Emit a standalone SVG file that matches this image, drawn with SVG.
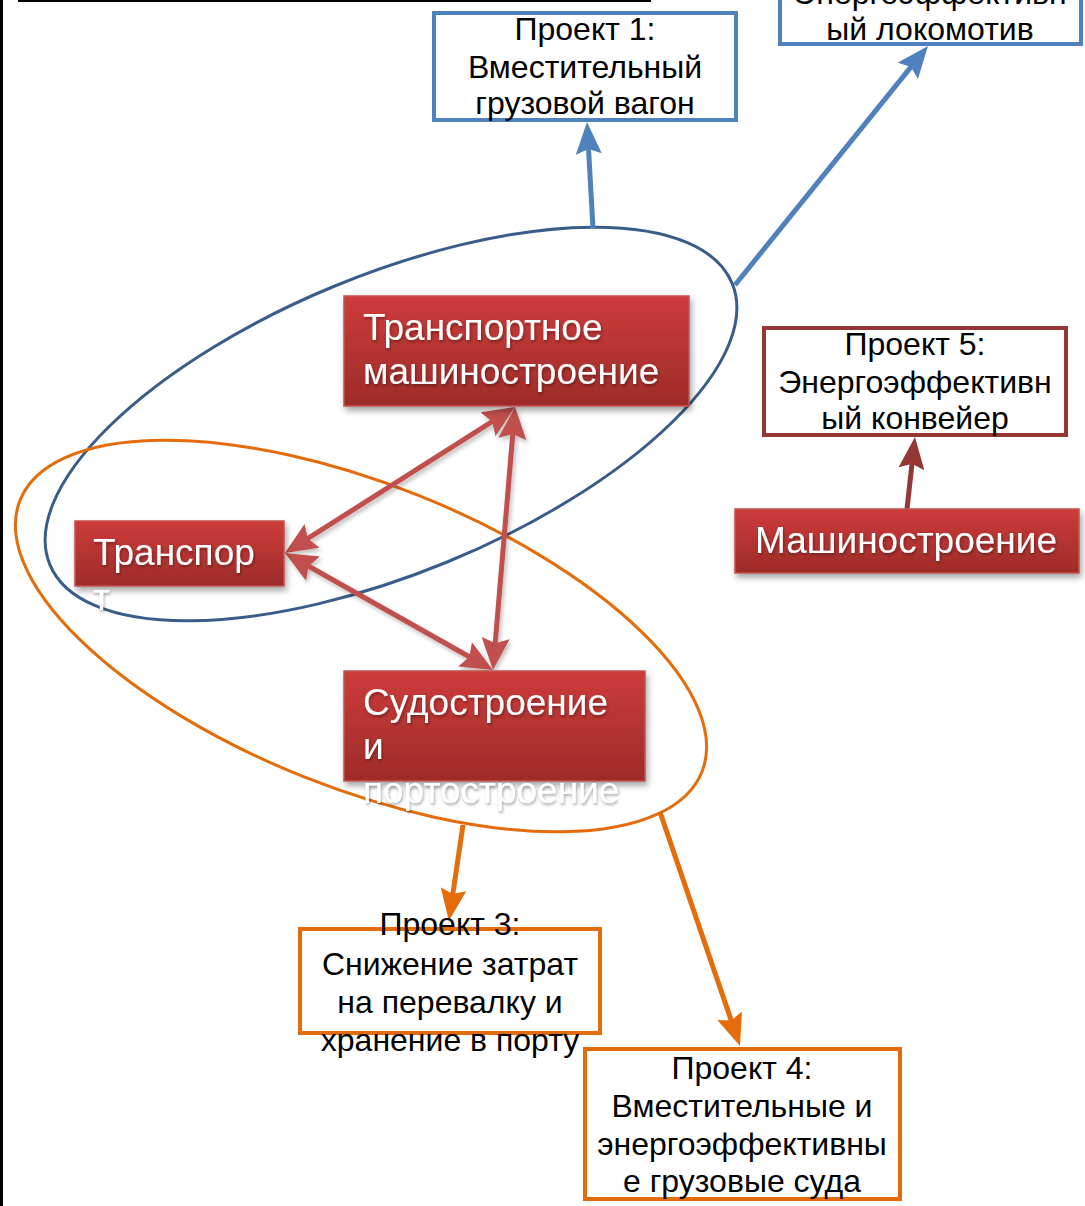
<svg xmlns="http://www.w3.org/2000/svg" width="1085" height="1206" viewBox="0 0 1085 1206">
  <defs>
    <style>
      .proj { fill: #ffffff; stroke-width: 4; }
      .blue { stroke: #4F81BD; }
      .brick { stroke: #953735; }
      .orange { stroke: #E46C0A; }
      .ptext { font-family: "Liberation Sans", Arial, sans-serif; font-size: 32px; fill: #000000; text-anchor: middle; }
      .rtext { font-family: "Liberation Sans", Arial, sans-serif; font-size: 37px; fill: #ffffff; filter: url(#txtShadow); }
      .rnode { fill: url(#redGrad); stroke: #C25350; stroke-width: 1.5; filter: url(#boxShadow); }
      .ring { fill: none; stroke-width: 3; }
      .link { fill: none; stroke-width: 5; }
    </style>
    <linearGradient id="redGrad" x1="0" y1="0" x2="0" y2="1">
      <stop offset="0" stop-color="#CD3C3A"/>
      <stop offset="1" stop-color="#9D2B29"/>
    </linearGradient>
    <filter id="boxShadow" x="-10%" y="-20%" width="125%" height="150%">
      <feDropShadow dx="2" dy="4" stdDeviation="3" flood-color="#000000" flood-opacity="0.35"/>
    </filter>
    <filter id="txtShadow" x="-10%" y="-30%" width="125%" height="170%">
      <feDropShadow dx="1" dy="2" stdDeviation="1.5" flood-color="#000000" flood-opacity="0.35"/>
    </filter>
    <filter id="lineShadow" x="-20%" y="-20%" width="140%" height="140%">
      <feDropShadow dx="2" dy="3" stdDeviation="2" flood-color="#000000" flood-opacity="0.25"/>
    </filter>
    <!-- arrowheads: reference point sits mid-head, tip is 16 units ahead -->
    <marker id="headBlue" viewBox="0 0 32 26" markerWidth="32" markerHeight="26" refX="16" refY="13" markerUnits="userSpaceOnUse" orient="auto-start-reverse">
      <path d="M0,0 L32,13 L0,26 L5,13 Z" fill="#4F81BD"/>
    </marker>
    <marker id="headRed" viewBox="0 0 32 28" markerWidth="32" markerHeight="28" refX="16" refY="14" markerUnits="userSpaceOnUse" orient="auto-start-reverse">
      <path d="M0,0 L32,14 L0,28 L5,14 Z" fill="#C0504D"/>
    </marker>
    <marker id="headBrick" viewBox="0 0 32 26" markerWidth="32" markerHeight="26" refX="16" refY="13" markerUnits="userSpaceOnUse" orient="auto-start-reverse">
      <path d="M0,0 L32,13 L0,26 L5,13 Z" fill="#953735"/>
    </marker>
    <marker id="headOrange" viewBox="0 0 32 26" markerWidth="32" markerHeight="26" refX="16" refY="13" markerUnits="userSpaceOnUse" orient="auto-start-reverse">
      <path d="M0,0 L32,13 L0,26 L5,13 Z" fill="#E46C0A"/>
    </marker>
  </defs>

  <rect x="0" y="0" width="1085" height="1206" fill="#ffffff"/>

  <!-- page frame: left rule and top underline -->
  <rect x="0" y="0" width="3" height="1206" fill="#000000"/>
  <line x1="18" y1="1" x2="651" y2="1" stroke="#000000" stroke-width="2"/>

  <!-- grouping rings -->
  <g id="rings">
    <ellipse id="ring-transport" class="ring" cx="391" cy="424" rx="369" ry="149" stroke="#385D8A" transform="rotate(-22.4 391 424)"/>
    <ellipse id="ring-ship" class="ring" cx="361" cy="636" rx="367" ry="152" stroke="#E46C0A" transform="rotate(21.7 361 636)"/>
  </g>

  <!-- connectors -->
  <g id="connectors">
    <line class="link" x1="593" y1="228" x2="587.9" y2="138" stroke="#4F81BD" marker-end="url(#headBlue)"/>
    <line class="link" x1="735" y1="285" x2="917.9" y2="58.4" stroke="#4F81BD" marker-end="url(#headBlue)"/>
    <g filter="url(#lineShadow)">
      <line class="link" x1="298.5" y1="544.4" x2="501.5" y2="415.6" stroke="#C0504D" marker-start="url(#headRed)" marker-end="url(#headRed)"/>
      <line class="link" x1="513.7" y1="423" x2="494.3" y2="654.1" stroke="#C0504D" marker-start="url(#headRed)" marker-end="url(#headRed)"/>
      <line class="link" x1="299" y1="560.8" x2="479" y2="662.2" stroke="#C0504D" marker-start="url(#headRed)" marker-end="url(#headRed)"/>
    </g>
    <line class="link" x1="907" y1="509" x2="913.2" y2="452.9" stroke="#953735" marker-end="url(#headBrick)"/>
    <line class="link" x1="463" y1="825" x2="451.2" y2="905" stroke="#E46C0A" marker-end="url(#headOrange)"/>
    <line class="link" x1="660" y1="812" x2="734.8" y2="1030.9" stroke="#E46C0A" marker-end="url(#headOrange)"/>
  </g>

  <!-- project boxes -->
  <g id="project1">
    <rect class="proj blue" x="434" y="13" width="302" height="107"/>
    <text class="ptext" x="585" y="40">Проект 1:</text>
    <text class="ptext" x="585" y="78">Вместительный</text>
    <text class="ptext" x="585" y="114">грузовой вагон</text>
  </g>
  <g id="project2">
    <rect class="proj blue" x="780" y="-70" width="301" height="114"/>
    <text class="ptext" x="930" y="4">Энергоэффективн</text>
    <text class="ptext" x="930" y="40">ый локомотив</text>
  </g>
  <g id="project5">
    <rect class="proj brick" x="764" y="328" width="302" height="107"/>
    <text class="ptext" x="915" y="355">Проект 5:</text>
    <text class="ptext" x="915" y="393">Энергоэффективн</text>
    <text class="ptext" x="915" y="429">ый конвейер</text>
  </g>
  <g id="project3">
    <rect class="proj orange" x="300" y="929" width="300" height="104"/>
    <text class="ptext" x="450" y="935">Проект 3:</text>
    <text class="ptext" x="450" y="975">Снижение затрат</text>
    <text class="ptext" x="450" y="1013">на перевалку и</text>
    <text class="ptext" x="450" y="1051">хранение в порту</text>
  </g>
  <g id="project4">
    <rect class="proj orange" x="585" y="1049" width="315" height="150"/>
    <text class="ptext" x="742" y="1079">Проект 4:</text>
    <text class="ptext" x="742" y="1117">Вместительные и</text>
    <text class="ptext" x="742" y="1155">энергоэффективны</text>
    <text class="ptext" x="742" y="1192">е грузовые суда</text>
  </g>

  <!-- industry nodes -->
  <g id="transport-engineering">
    <rect class="rnode" x="344" y="296" width="345" height="110"/>
    <text class="rtext" x="363" y="340">Транспортное</text>
    <text class="rtext" x="363" y="384">машиностроение</text>
  </g>
  <g id="transport">
    <rect class="rnode" x="75" y="521" width="209" height="65"/>
    <text class="rtext" x="93" y="565">Транспор</text>
    <text class="rtext" x="93" y="610">т</text>
  </g>
  <g id="shipbuilding">
    <rect class="rnode" x="344" y="671" width="301" height="110"/>
    <text class="rtext" x="363" y="715">Судостроение</text>
    <text class="rtext" x="363" y="759">и</text>
    <text class="rtext" x="363" y="803">портостроение</text>
  </g>
  <g id="engineering">
    <rect class="rnode" x="735" y="509" width="344" height="64"/>
    <text class="rtext" x="755" y="553">Машиностроение</text>
  </g>
</svg>
